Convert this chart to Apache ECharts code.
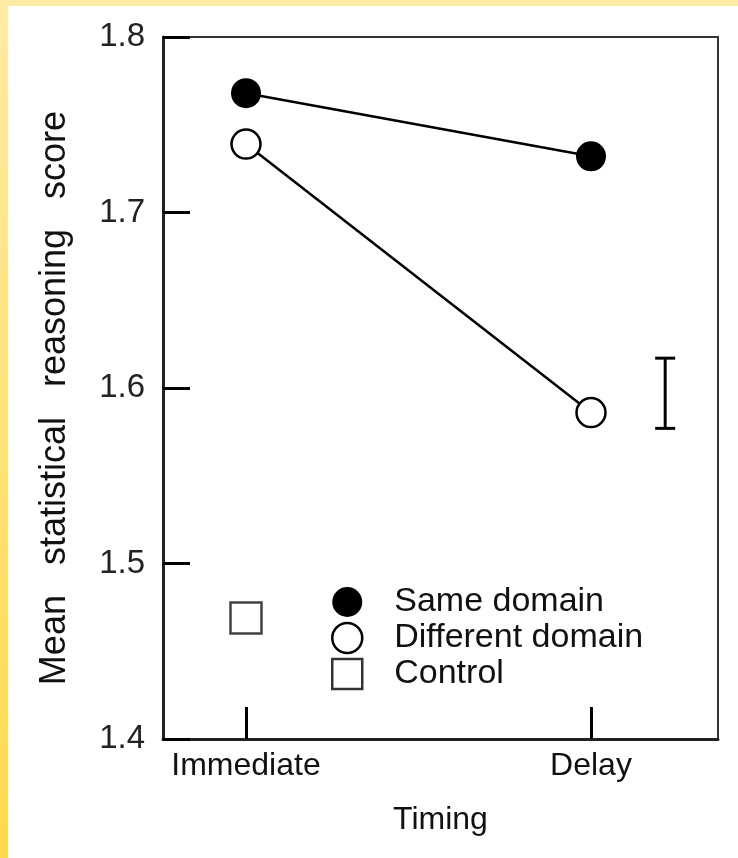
<!DOCTYPE html>
<html>
<head>
<meta charset="utf-8">
<script src="https://cdn.jsdelivr.net/npm/echarts@6/dist/echarts.min.js"></script>
<style>
html,body{margin:0;padding:0;background:#fff;}
#chart{width:738px;height:858px;}
</style>
</head>
<body>
<div id="chart"></div>
<script>
const timing = ['Immediate', 'Delay'];
const timingPos = [1, 2];
const sameDomain = [1.768, 1.732];
const differentDomain = [1.739, 1.586];
const control = [1.469];
const errorBarPos = 2.215;
const errorBarRange = [1.577, 1.617];
const yTicks = [1.4, 1.5, 1.6, 1.7, 1.8];

const font = 'Liberation Sans, Arial, Helvetica, sans-serif';
const ink = '#111';

const chart = echarts.init(document.getElementById('chart'), null, {renderer: 'canvas'});
chart.setOption({
  backgroundColor: '#ffffff',
  animation: false,
  graphic: [
    {type: 'rect', left: 0, top: 0, shape: {width: 738, height: 6}, silent: true,
     style: {fill: '#FFEBA3'}},
    {type: 'rect', left: 0, top: 0, shape: {width: 8, height: 858}, silent: true,
     style: {fill: new echarts.graphic.LinearGradient(0, 0, 0, 1, [
       {offset: 0, color: '#FFEBA3'}, {offset: 1, color: '#FFD84E'}])}}
  ],
  grid: {left: 163, top: 37, right: 20, bottom: 119, show: true,
         borderColor: '#333', borderWidth: 2, backgroundColor: 'transparent'},
  legend: {
    orient: 'vertical', left: 326, top: 580,
    itemWidth: 30, itemHeight: 30, itemGap: 2,
    selectedMode: false,
    textStyle: {fontFamily: font, fontSize: 34, color: ink, lineHeight: 30, padding: [0, 0, 0, 27]},
    data: [
      {name: 'Same domain', icon: 'circle', itemStyle: {color: '#000', borderColor: '#000', borderWidth: 0}},
      {name: 'Different domain', icon: 'circle', itemStyle: {color: '#fff', borderColor: '#000', borderWidth: 2.5}},
      {name: 'Control', icon: 'rect', itemStyle: {color: '#fff', borderColor: '#000', borderWidth: 2.5}}
    ]
  },
  xAxis: {
    type: 'value', min: 0.7594, max: 2.3681,
    name: 'Timing', nameLocation: 'middle', nameGap: 65,
    nameTextStyle: {fontFamily: font, fontSize: 32, color: ink},
    axisLine: {show: true, lineStyle: {color: '#222', width: 3}},
    axisTick: {show: true, inside: true, length: 32, customValues: timingPos, lineStyle: {color: '#000', width: 3}},
    axisLabel: {show: true, customValues: timingPos, margin: 11, fontFamily: font, fontSize: 32, color: ink,
      formatter: function (v) { return timing[timingPos.indexOf(v)] || ''; }},
    splitLine: {show: false}
  },
  yAxis: {
    type: 'value', min: 1.4, max: 1.8, interval: 0.1,
    name: 'Mean   statistical   reasoning   score', nameLocation: 'middle', nameGap: 90,
    nameTextStyle: {fontFamily: font, fontSize: 36, color: ink, padding: [0, 20, 0, 0]},
    axisLine: {show: true, lineStyle: {color: '#222', width: 3}},
    axisTick: {show: true, inside: true, length: 27, lineStyle: {color: '#000', width: 3}},
    axisLabel: {margin: 18, fontFamily: font, fontSize: 33, color: '#222', padding: [10, 0, 0, 0],
      formatter: function (v) { const t = yTicks.find(x => Math.abs(x - v) < 1e-6); return t !== undefined ? t.toFixed(1) : ''; }},
    splitLine: {show: false}
  },
  series: [
    {
      name: 'Same domain', type: 'line', z: 3,
      data: sameDomain.map((v, i) => [timingPos[i], v]),
      symbol: 'circle', symbolSize: 30,
      lineStyle: {color: '#000', width: 2.5},
      itemStyle: {color: '#000', borderColor: '#000', borderWidth: 0}
    },
    {
      name: 'Different domain', type: 'line', z: 3,
      data: differentDomain.map((v, i) => [timingPos[i], v]),
      symbol: 'circle', symbolSize: 29,
      lineStyle: {color: '#000', width: 2.5},
      itemStyle: {color: '#fff', borderColor: '#000', borderWidth: 2.5}
    },
    {
      name: 'Control', type: 'scatter', z: 3,
      data: control.map((v, i) => [timingPos[i], v]),
      symbol: 'rect', symbolSize: 31,
      itemStyle: {color: '#fff', borderColor: '#111', borderWidth: 2.5}
    },
    {
      name: 'error', type: 'custom', z: 3,
      data: [[errorBarPos, errorBarRange[0], errorBarRange[1]]],
      renderItem: function (params, api) {
        const x = api.value(0);
        const lo = api.coord([x, api.value(1)]);
        const hi = api.coord([x, api.value(2)]);
        const half = 10;
        const st = {stroke: '#000', lineWidth: 3};
        return {type: 'group', children: [
          {type: 'line', shape: {x1: lo[0], y1: lo[1], x2: hi[0], y2: hi[1]}, style: st},
          {type: 'line', shape: {x1: lo[0] - half, y1: lo[1], x2: lo[0] + half, y2: lo[1]}, style: st},
          {type: 'line', shape: {x1: hi[0] - half, y1: hi[1], x2: hi[0] + half, y2: hi[1]}, style: st}
        ]};
      }
    }
  ]
});
</script>
</body>
</html>
